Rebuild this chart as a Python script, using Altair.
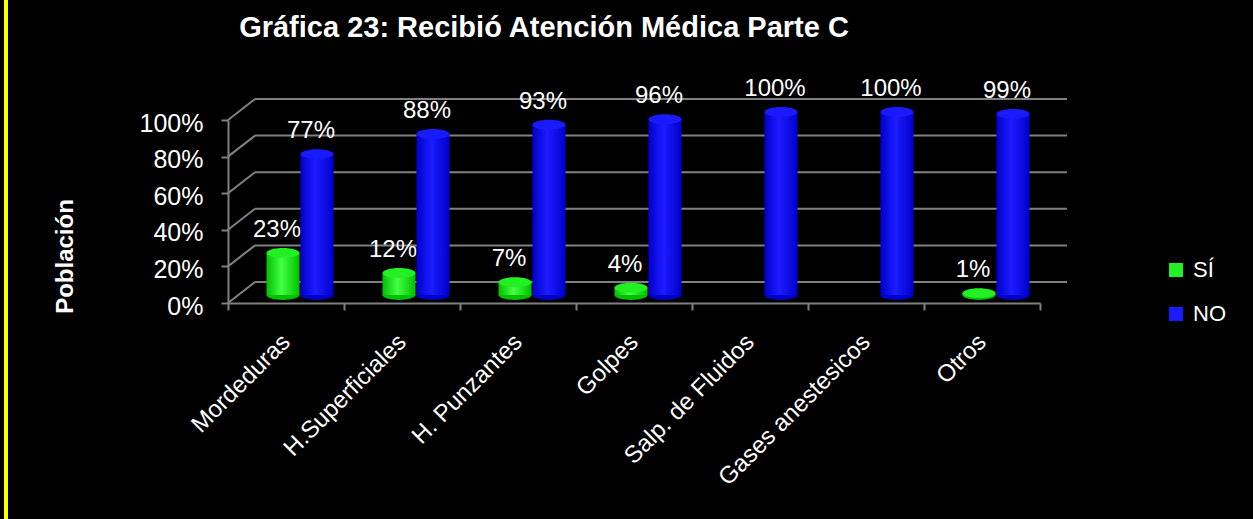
import altair as alt
import pandas as pd

categories = ["Mordeduras", "H.Superficiales", "H. Punzantes", "Golpes",
              "Salp. de Fluidos", "Gases anestesicos", "Otros"]
si_values = [23, 12, 7, 4, 0, 0, 1]
no_values = [77, 88, 93, 96, 100, 100, 99]
series_names = ["SÍ", "NO"]
y_ticks = [0, 20, 40, 60, 80, 100]

rows = []
for c, s, n in zip(categories, si_values, no_values):
    rows.append({"Categoria": c, "Serie": "SÍ", "Valor": s, "Etiqueta": f"{s}%"})
    rows.append({"Categoria": c, "Serie": "NO", "Valor": n, "Etiqueta": f"{n}%"})
df = pd.DataFrame(rows)
grid_df = pd.DataFrame({"v": y_ticks})

W, H = 812, 183
DX, DY = 27, -21      # depth offset of back wall
BY = -8               # bars sit mid-depth
FONT = "Liberation Sans"
ELLIPSE = "M-1,0A1,0.3,0,1,1,1,0A1,0.3,0,1,1,-1,0Z"
GRID = "#808080"

xs = alt.Scale(domain=categories, paddingInner=0, paddingOuter=0)
ys = alt.Scale(domain=[0, 100], nice=False)
cs = alt.Scale(domain=series_names, range=["#22f022", "#1a1aff"])

x_plain = alt.X("Categoria:N", sort=categories, scale=xs, axis=None)
y_plain = alt.Y("Valor:Q", scale=ys, axis=None)

base = alt.Chart(df)

# axes layer (invisible bars carrying axes)
axes = base.mark_bar(opacity=0).encode(
    x=alt.X("Categoria:N", sort=categories, scale=xs, title=None,
            axis=alt.Axis(orient="bottom", labelAngle=-45, labelAlign="right",
                          labelBaseline="middle", labelLimit=0,
                          labelFontSize=24, labelColor="white", labelFont=FONT,
                          labelPadding=28, tickBand="extent", tickSize=7,
                          tickColor=GRID, tickWidth=2, domainColor=GRID,
                          domainWidth=2, grid=False)),
    y=alt.Y("Valor:Q", scale=ys, title="Población",
            axis=alt.Axis(orient="left", values=y_ticks, labelExpr="datum.value + '%'",
                          labelFontSize=25, labelColor="white", labelFont=FONT,
                          labelPadding=18, labelOffset=3, tickSize=7, tickColor=GRID,
                          tickWidth=2, domainColor=GRID, domainWidth=2, grid=False,
                          titleFont=FONT, titleFontSize=24, titleFontWeight="bold",
                          titleColor="white", titleX=-163, titleY=136,
                          titleAngle=270, titleAlign="center", titleBaseline="middle")),
)

# back wall gridlines and floor/left diagonals
back = alt.Chart(grid_df).mark_rule(
    color=GRID, strokeWidth=2, xOffset=DX, x2Offset=DX, yOffset=DY, y2Offset=DY
).encode(y=alt.Y("v:Q", scale=ys, axis=None), x=alt.value(0), x2=alt.value(W))
diag = alt.Chart(grid_df).mark_rule(
    color=GRID, strokeWidth=2, x2Offset=DX, y2Offset=DY
).encode(y=alt.Y("v:Q", scale=ys, axis=None), y2="v:Q", x=alt.value(0), x2=alt.value(0))


def grad(edge, mid):
    return alt.Gradient(
        gradient="linear", x1=0, x2=1, y1=0, y2=0,
        stops=[alt.GradientStop(color=edge, offset=0),
               alt.GradientStop(color=mid, offset=0.45),
               alt.GradientStop(color=edge, offset=1)])


def cylinder(serie, xoff, edge, mid, label_dx):
    d = base.transform_filter(alt.datum.Serie == serie).transform_filter(alt.datum.Valor > 0)
    bottom = d.mark_point(shape=ELLIPSE, size=33 * 33, filled=True, opacity=1,
                          color=edge, xOffset=xoff, yOffset=BY).encode(
        x=x_plain, y=alt.Y("zero:Q", scale=ys, axis=None)).transform_calculate(zero="0")
    body = d.mark_bar(width=33, fill=grad(edge, mid), xOffset=xoff,
                      yOffset=BY, y2Offset=BY).encode(x=x_plain, y=y_plain)
    top = d.mark_point(shape=ELLIPSE, size=33 * 33, filled=True, opacity=1,
                       xOffset=xoff, yOffset=BY).encode(
        x=x_plain, y=y_plain,
        color=alt.Color("Serie:N", scale=cs, title=None,
                        legend=alt.Legend(orient="none", legendX=937, legendY=139,
                                          symbolType="square", symbolSize=196,
                                          symbolStrokeWidth=0, labelFontSize=22,
                                          labelColor="white", labelFont=FONT,
                                          labelOffset=6, rowPadding=22, padding=0)))
    text = d.mark_text(font=FONT, fontSize=24, color="white", baseline="middle",
                       xOffset=label_dx, yOffset=BY - 23).encode(
        x=x_plain, y=y_plain, text="Etiqueta:N")
    return [bottom, body, top, text]


layers = [axes, back, diag]
layers += cylinder("SÍ", -3, "#00c000", "#44ff44", -9)
layers += cylinder("NO", 31, "#0000cc", "#1c1cff", 25)

# yellow border at the left edge of the picture
border = alt.Chart(grid_df).mark_rule(color="#ffff00", strokeWidth=4).encode(
    x=alt.value(-222), y=alt.value(-120), y2=alt.value(400))
layers.append(border)

chart = alt.layer(*layers).resolve_axis(x="independent", y="independent").properties(
    width=W, height=H,
    title=alt.Title("Gráfica 23: Recibió Atención Médica Parte C", font=FONT,
                    fontSize=29, fontWeight="bold", color="white",
                    anchor="middle", frame="group", dx=-90, dy=49),
    autosize=alt.AutoSizeParams(type="none"),
    padding={"left": 228, "top": 120, "right": 213, "bottom": 216},
).configure(background="black").configure_view(stroke=None)

chart.save("out.html", embed_options={"renderer": "svg", "actions": False})
